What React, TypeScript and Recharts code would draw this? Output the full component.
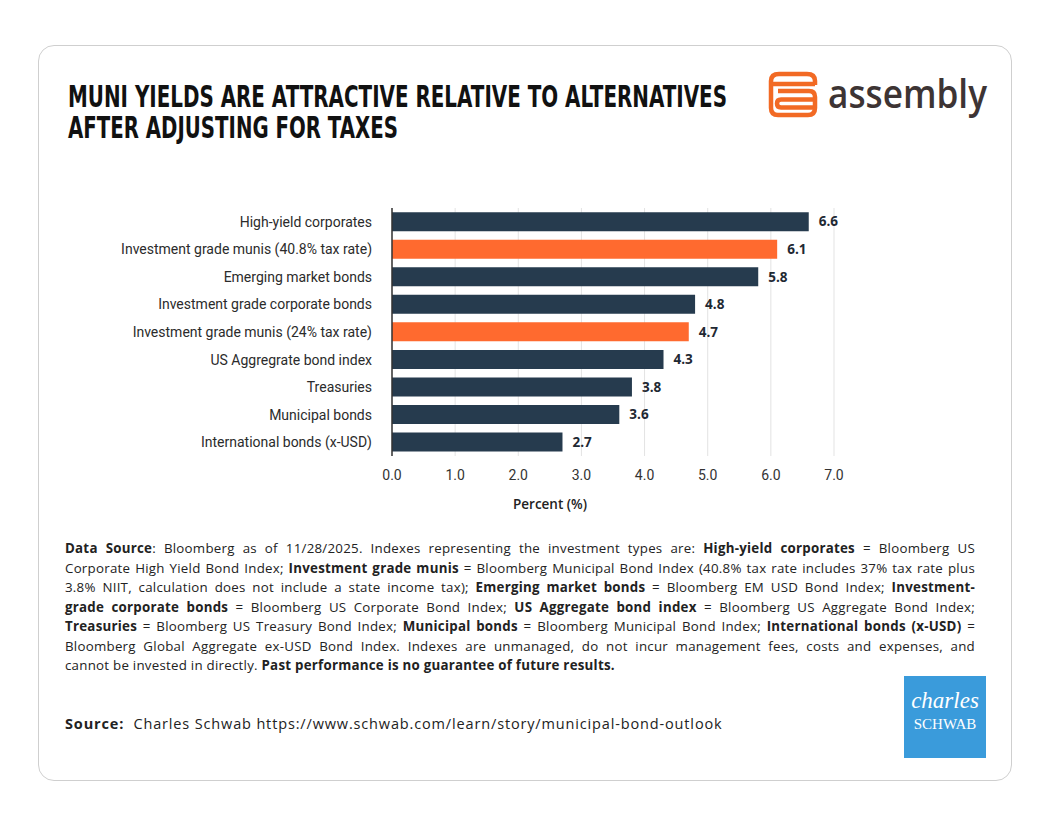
import React from 'react';
import { BarChart, Bar, XAxis, YAxis, CartesianGrid, Cell, LabelList } from 'recharts';

const categories = [
  'High-yield corporates',
  'Investment grade munis (40.8% tax rate)',
  'Emerging market bonds',
  'Investment grade corporate bonds',
  'Investment grade munis (24% tax rate)',
  'US Aggregrate bond index',
  'Treasuries',
  'Municipal bonds',
  'International bonds (x-USD)',
];
const yields = [6.6, 6.1, 5.8, 4.8, 4.7, 4.3, 3.8, 3.6, 2.7];
const highlighted = ['Investment grade munis (40.8% tax rate)', 'Investment grade munis (24% tax rate)'];
const xTicks = [0, 1, 2, 3, 4, 5, 6, 7];

const NAVY = '#263b4e';
const ORANGE = '#ff6a2f';

const data = categories.map((name, i) => ({ name, value: yields[i] }));

// footnote, one entry per printed line so the breaks follow the original
const noteLines: React.ReactNode[] = [
  <><b>Data Source</b>: Bloomberg as of 11/28/2025. Indexes representing the investment types are: <b>High-yield corporates</b> = Bloomberg US</>,
  <>Corporate High Yield Bond Index; <b>Investment grade munis</b> = Bloomberg Municipal Bond Index (40.8% tax rate includes 37% tax rate plus</>,
  <>3.8% NIIT, calculation does not include a state income tax); <b>Emerging market bonds</b> = Bloomberg EM USD Bond Index; <b>Investment-</b></>,
  <><b>grade corporate bonds</b> = Bloomberg US Corporate Bond Index; <b>US Aggregate bond index</b> = Bloomberg US Aggregate Bond Index;</>,
  <><b>Treasuries</b> = Bloomberg US Treasury Bond Index; <b>Municipal bonds</b> = Bloomberg Municipal Bond Index; <b>International bonds (x-USD)</b> =</>,
  <>Bloomberg Global Aggregate ex-USD Bond Index. Indexes are unmanaged, do not incur management fees, costs and expenses, and</>,
  <>cannot be invested in directly. <b>Past performance is no guarantee of future results.</b></>,
];

const AssemblyLogo = () => (
  <svg width={260} height={64} style={{ position: 'absolute', left: 760, top: 64 }}>
    <g fill="none" stroke="#f26a24" strokeWidth={4.5} strokeLinejoin="round" strokeLinecap="butt">
      <path d="M55 21 L55 17 Q55 10 47 10 L19 10 Q11 10 11 17 L11 44 Q11 51 18 51 L48 51 Q55 51 55 44 L55 33 Q55 27 49 27 L18 27" />
      <path d="M11 20 L55 20" />
      <path d="M55 35.5 L21 35.5 Q17 35.5 17 39.5 Q17 43.5 21 43.5 L53 43.5" />
    </g>
    <text x={68} y={44} fontFamily="'Open Sans', sans-serif" fontWeight={600} fontSize={40} fill="#3d3434" textLength={159} lengthAdjust="spacingAndGlyphs">assembly</text>
  </svg>
);

const App: React.FC = () => {
  return (
    <div style={{ position: 'absolute', left: 0, top: 0, width: 1056, height: 816, background: '#fff', overflow: 'hidden' }}>
      <div style={{ position: 'absolute', left: 38, top: 45, width: 972, height: 734, border: '1px solid #cfcfcf', borderRadius: 16 }} />

      <svg width={720} height={80} style={{ position: 'absolute', left: 60, top: 72 }}>
        <g fontFamily="'DejaVu Sans', sans-serif" fontWeight={700} fontSize={31} fill="#111">
          <text x={8} y={35} textLength={659} lengthAdjust="spacingAndGlyphs">MUNI YIELDS ARE ATTRACTIVE RELATIVE TO ALTERNATIVES</text>
          <text x={8} y={66} textLength={330} lengthAdjust="spacingAndGlyphs">AFTER ADJUSTING FOR TAXES</text>
        </g>
      </svg>

      <AssemblyLogo />

      <div style={{ position: 'absolute', left: 0, top: 190 }}>
        <BarChart
          width={900}
          height={340}
          data={data}
          layout="vertical"
          margin={{ top: 18, right: 66, left: 0, bottom: 24 }}
          barCategoryGap="15%"
        >
          <CartesianGrid horizontal={false} stroke="#e3e3e3" />
          <XAxis
            type="number"
            domain={[0, 7]}
            ticks={xTicks}
            tickFormatter={(v: number) => v.toFixed(1)}
            axisLine={false}
            tickLine={false}
            tickSize={0}
            tickMargin={14}
            height={50}
            tick={{ fontSize: 14, fill: '#333', fontFamily: "'Roboto', sans-serif" }}
            label={{ value: 'Percent (%)', position: 'insideBottom', offset: -3, dx: -63, fontSize: 13.5, fontWeight: 600, fill: '#222', fontFamily: "'Open Sans', sans-serif" }}
          />
          <YAxis
            type="category"
            dataKey="name"
            width={392}
            axisLine={{ stroke: '#333', strokeWidth: 1.5 }}
            tickLine={false}
            tickMargin={14}
            interval={0}
            tick={{ fontSize: 14, fill: '#2b2b2b', fontFamily: "'Roboto', sans-serif" }}
          />
          <Bar dataKey="value" isAnimationActive={false}>
            {data.map((d) => (
              <Cell key={d.name} fill={highlighted.includes(d.name) ? ORANGE : NAVY} />
            ))}
            <LabelList
              dataKey="value"
              position="right"
              offset={10}
              formatter={(v: number) => v.toFixed(1)}
              style={{ fontSize: 13.5, fontWeight: 700, fill: '#1f2933', fontFamily: "'Open Sans', sans-serif" }}
            />
          </Bar>
        </BarChart>
      </div>

      <div
        style={{
          position: 'absolute',
          left: 65,
          top: 539,
          width: 910,
          fontFamily: "'Open Sans', sans-serif",
          fontSize: 13.3,
          letterSpacing: 0.25,
          lineHeight: '19.5px',
          color: '#222',
        }}
      >
        {noteLines.map((line, i) => (
          <div
            key={i}
            style={{
              whiteSpace: 'nowrap',
              textAlign: i === noteLines.length - 1 ? 'left' : 'justify',
              textAlignLast: i === noteLines.length - 1 ? 'left' : 'justify',
            }}
          >
            {line}
          </div>
        ))}
      </div>

      <div style={{ position: 'absolute', left: 65, top: 714, fontFamily: "'Open Sans', sans-serif", fontSize: 14.5, letterSpacing: 0.85, color: '#222' }}>
        <b>Source:</b>&nbsp; Charles Schwab https://www.schwab.com/learn/story/municipal-bond-outlook
      </div>

      <div style={{ position: 'absolute', left: 904, top: 676, width: 82, height: 82, background: '#3a9bdb', color: '#fff', fontFamily: "'Liberation Serif', 'DejaVu Serif', serif", textAlign: 'center' }}>
        <div style={{ fontStyle: 'italic', fontSize: 23, lineHeight: '23px', marginTop: 13 }}>charles</div>
        <div style={{ fontSize: 15, lineHeight: '16px', marginTop: 4 }}>SCHWAB</div>
      </div>
    </div>
  );
};

export default App;
